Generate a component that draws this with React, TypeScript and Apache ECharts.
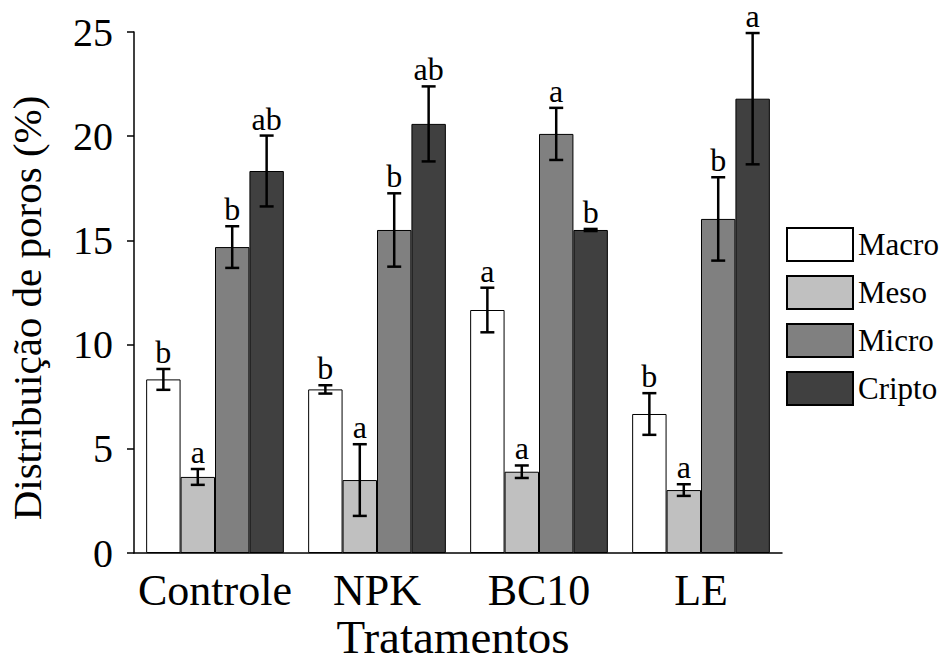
import React, { useEffect, useRef } from "react";
import * as echarts from "echarts";

// Treatments on the x axis
const categories = ["Controle", "NPK", "BC10", "LE"];
// Pore classes (one bar series each)
const poreClasses = ["Macro", "Meso", "Micro", "Cripto"];
const barColors = ["#ffffff", "#c0c0c0", "#808080", "#404040"];

// Mean pore distribution (%)
const macro = [8.33, 7.85, 11.66, 6.67];
const meso = [3.65, 3.5, 3.9, 3.02];
const micro = [14.68, 15.5, 20.11, 16.03];
const cripto = [18.33, 20.59, 15.5, 21.8];

// Error (half-length of the error bar)
const macroErr = [0.5, 0.2, 1.07, 1.0];
const mesoErr = [0.38, 1.72, 0.3, 0.28];
const microErr = [1.0, 1.76, 1.25, 2.0];
const criptoErr = [1.7, 1.8, 0.05, 3.15];

// Significance letters
const macroLetters = ["b", "b", "a", "b"];
const mesoLetters = ["a", "a", "a", "a"];
const microLetters = ["b", "b", "a", "b"];
const criptoLetters = ["ab", "ab", "b", "a"];

const yTicks = [0, 5, 10, 15, 20, 25];

const FONT = "Liberation Serif, serif";
const CATEGORY_GAP = 0.15;

export default function App() {
  const ref = useRef<HTMLDivElement>(null);

  useEffect(() => {
    if (!ref.current) return;
    const chart = echarts.init(ref.current, undefined, { renderer: "svg" });

    const means = [macro, meso, micro, cripto];
    const errs = [macroErr, mesoErr, microErr, criptoErr];
    const letters = [macroLetters, mesoLetters, microLetters, criptoLetters];

    const barSeries = poreClasses.map((name, k) => ({
      type: "bar",
      name,
      data: means[k],
      barGap: "0%",
      barCategoryGap: CATEGORY_GAP * 100 + "%",
      itemStyle: { color: barColors[k], borderColor: "#000", borderWidth: 1 },
      z: 2,
    }));

    const errSeries = poreClasses.map((name, k) => ({
      type: "custom",
      name: name + " erro",
      z: 5,
      clip: false,
      data: means[k].map((v, i) => [i, v, errs[k][i]]),
      encode: { x: 0, y: 1 },
      renderItem: (params: any, api: any) => {
        const cat = api.value(0);
        const val = api.value(1);
        const err = api.value(2);
        const band = api.size([1, 0])[0];
        const bw = (band * (1 - CATEGORY_GAP)) / poreClasses.length;
        const c = api.coord([cat, val]);
        const x = c[0] + (k - (poreClasses.length - 1) / 2) * bw;
        const top = api.coord([cat, val + err])[1];
        const bot = api.coord([cat, val - err])[1];
        const half = 7;
        const lineStyle = { stroke: "#000", lineWidth: 2.5 };
        return {
          type: "group",
          children: [
            { type: "line", shape: { x1: x, y1: top, x2: x, y2: bot }, style: lineStyle },
            { type: "line", shape: { x1: x - half, y1: top, x2: x + half, y2: top }, style: lineStyle },
            { type: "line", shape: { x1: x - half, y1: bot, x2: x + half, y2: bot }, style: lineStyle },
            {
              type: "text",
              x,
              y: top - 17,
              style: {
                text: letters[k][params.dataIndex],
                fontSize: 32,
                lineHeight: 26,
                fontFamily: FONT,
                fill: "#000",
                align: "center",
                verticalAlign: "middle",
              },
            },
          ],
        };
      },
    }));

    chart.setOption({
      animation: false,
      backgroundColor: "#fff",
      textStyle: { fontFamily: FONT },
      grid: {
        left: 134,
        top: 32,
        width: 648,
        height: 521,
        containLabel: false,
        outerBoundsMode: "none",
      },
      legend: {
        data: poreClasses,
        orient: "vertical",
        left: 786,
        top: 227,
        padding: 0,
        itemWidth: 66,
        itemHeight: 33,
        itemGap: 13,
        icon: "rect",
        selectedMode: false,
        textStyle: { fontSize: 31, fontFamily: FONT, color: "#000" },
      },
      xAxis: {
        type: "category",
        data: categories,
        axisLine: { lineStyle: { color: "#000", width: 1.5 } },
        axisTick: { alignWithLabel: true, length: 9, lineStyle: { color: "#000", width: 1.5 } },
        axisLabel: { fontSize: 44, fontFamily: FONT, color: "#000", margin: 15, interval: 0 },
        splitLine: { show: false },
      },
      yAxis: {
        type: "value",
        min: yTicks[0],
        max: yTicks[yTicks.length - 1],
        interval: 5,
        axisLine: { show: true, lineStyle: { color: "#000", width: 1.5 } },
        axisTick: { show: true, length: 7, lineStyle: { color: "#000", width: 1.5 } },
        axisLabel: { fontSize: 40, fontFamily: FONT, color: "#000", margin: 21 },
        splitLine: { show: false },
      },
      graphic: [
        {
          type: "text",
          x: 27,
          y: 308,
          rotation: Math.PI / 2,
          style: {
            text: "Distribuição de poros (%)",
            fontSize: 41,
            fontFamily: FONT,
            fill: "#000",
            align: "center",
            verticalAlign: "middle",
          },
        },
        {
          type: "text",
          x: 453,
          y: 637,
          style: {
            text: "Tratamentos",
            fontSize: 47,
            fontFamily: FONT,
            fill: "#000",
            align: "center",
            verticalAlign: "middle",
          },
        },
      ],
      series: [...barSeries, ...errSeries],
    });

    return () => chart.dispose();
  }, []);

  return (
    <div
      ref={ref}
      style={{ position: "fixed", left: 0, top: 0, width: 939, height: 666 }}
    />
  );
}
